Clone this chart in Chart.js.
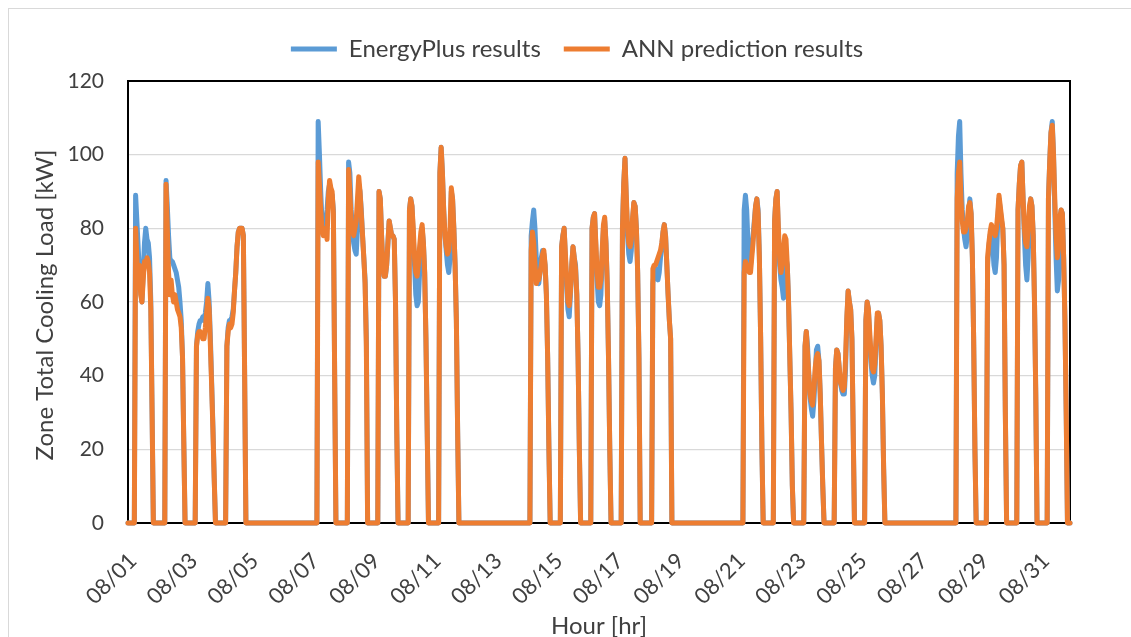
<!DOCTYPE html>
<html>
<head>
<meta charset="utf-8">
<script src="https://cdn.jsdelivr.net/npm/chart.js@4.4.1/dist/chart.umd.min.js"></script>
<style>
  body { margin: 0; background: #fff; overflow: hidden; }
  #frame { position: absolute; left: 8px; top: 8px; width: 1140px; height: 650px; border: 1px solid #d9d9d9; }
  #myChart { position: absolute; left: 0; top: 0; }
</style>
</head>
<body>
<div id="frame"></div>
<canvas id="myChart" width="1131" height="637"></canvas>
<script>
// hourly cooling load, August; each day lists values from START_HOUR on, the rest of the day is 0
const START_HOUR = 6;
const dayLabels = ['08/01','08/02','08/03','08/04','08/05','08/06','08/07','08/08','08/09','08/10',
  '08/11','08/12','08/13','08/14','08/15','08/16','08/17','08/18','08/19','08/20',
  '08/21','08/22','08/23','08/24','08/25','08/26','08/27','08/28','08/29','08/30','08/31'];
const yTicks = [0, 20, 40, 60, 80, 100, 120];

const energyPlus = [
  [89, 82, 75, 68, 63, 60, 68, 76, 80, 77, 76, 72, 60, 30, 0],
  [93, 86, 78, 72, 71, 71, 70, 69, 68, 66, 64, 60, 55, 45, 22, 0],
  [48, 52, 54, 55, 55, 56, 55, 57, 60, 65, 60, 50, 38, 26, 12, 0],
  [48, 53, 55, 55, 56, 58, 63, 68, 75, 79, 80, 80, 80, 78, 40, 0],
  [],
  [],
  [109, 100, 90, 82, 79, 80, 82, 85, 90, 92, 90, 89, 85, 40, 0],
  [98, 95, 85, 80, 76, 74, 73, 80, 92, 90, 85, 78, 72, 66, 50, 0],
  [90, 88, 78, 70, 67, 67, 70, 76, 82, 80, 78, 78, 77, 60, 25, 0],
  [85, 88, 86, 78, 70, 62, 59, 60, 68, 75, 80, 76, 68, 50, 25, 0],
  [95, 102, 95, 85, 78, 74, 70, 68, 72, 90, 88, 80, 70, 55, 25, 0],
  [],
  [],
  [78, 82, 85, 80, 72, 66, 65, 68, 72, 74, 73, 70, 62, 45, 20, 0],
  [75, 78, 80, 72, 64, 58, 56, 62, 70, 75, 72, 70, 62, 45, 20, 0],
  [80, 83, 84, 75, 66, 60, 59, 62, 72, 80, 82, 76, 65, 45, 20, 0],
  [80, 92, 99, 88, 78, 73, 71, 74, 82, 87, 86, 80, 68, 45, 0],
  [65, 68, 69, 68, 66, 68, 72, 75, 79, 81, 78, 70, 62, 55, 50, 0],
  [],
  [],
  [85, 89, 85, 76, 70, 70, 74, 78, 82, 86, 88, 85, 72, 50, 20, 0],
  [82, 88, 90, 78, 70, 66, 64, 61, 66, 72, 70, 60, 45, 30, 10, 0],
  [48, 52, 48, 40, 34, 31, 29, 33, 40, 47, 48, 44, 35, 22, 10, 0],
  [42, 47, 46, 42, 38, 36, 35, 35, 42, 55, 63, 60, 58, 50, 25, 0],
  [55, 60, 58, 50, 44, 40, 38, 40, 48, 56, 57, 55, 48, 35, 15, 0],
  [],
  [],
  [95, 105, 109, 95, 85, 80, 77, 75, 78, 84, 88, 84, 72, 50, 20, 0],
  [70, 75, 78, 80, 76, 70, 68, 72, 82, 88, 85, 82, 80, 70, 30, 0],
  [85, 92, 97, 98, 88, 78, 70, 66, 72, 84, 88, 86, 78, 60, 35, 0],
  [88, 98, 106, 109, 100, 85, 72, 63, 66, 80, 85, 84, 72, 55, 30, 0]
];

const annPrediction = [
  [80, 72, 64, 70, 62, 60, 66, 71, 70, 72, 71, 68, 58, 30, 0],
  [92, 80, 68, 62, 66, 62, 60, 62, 60, 58, 57, 56, 53, 45, 22, 0],
  [48, 51, 52, 52, 51, 50, 50, 53, 57, 61, 58, 48, 37, 25, 12, 0],
  [48, 52, 54, 53, 54, 57, 63, 68, 75, 79, 80, 80, 80, 78, 40, 0],
  [],
  [],
  [98, 92, 85, 80, 78, 79, 80, 77, 88, 93, 91, 90, 84, 40, 0],
  [96, 90, 82, 80, 78, 80, 82, 88, 94, 90, 84, 78, 72, 65, 48, 0],
  [90, 88, 78, 70, 67, 67, 70, 76, 82, 80, 78, 78, 77, 60, 25, 0],
  [85, 88, 86, 80, 72, 68, 67, 70, 75, 79, 81, 76, 68, 50, 25, 0],
  [95, 102, 95, 85, 78, 75, 73, 74, 80, 91, 88, 80, 70, 55, 25, 0],
  [],
  [],
  [74, 79, 76, 70, 65, 66, 66, 68, 70, 73, 74, 70, 62, 45, 20, 0],
  [75, 78, 80, 73, 66, 60, 59, 63, 70, 75, 72, 69, 62, 45, 20, 0],
  [80, 83, 84, 76, 68, 64, 64, 66, 74, 81, 83, 76, 65, 45, 20, 0],
  [80, 92, 99, 89, 80, 76, 75, 77, 83, 87, 86, 80, 68, 45, 0],
  [69, 70, 70, 71, 72, 73, 74, 76, 79, 81, 78, 70, 62, 55, 50, 0],
  [],
  [],
  [68, 71, 70, 69, 68, 68, 72, 76, 81, 86, 88, 84, 72, 50, 20, 0],
  [82, 88, 90, 80, 72, 68, 70, 74, 78, 77, 70, 60, 45, 30, 10, 0],
  [48, 52, 46, 40, 35, 33, 32, 36, 42, 45, 46, 44, 35, 22, 10, 0],
  [42, 47, 46, 42, 38, 37, 36, 37, 45, 56, 63, 60, 58, 50, 25, 0],
  [55, 60, 58, 52, 46, 42, 41, 43, 50, 57, 57, 55, 48, 35, 15, 0],
  [],
  [],
  [88, 95, 98, 88, 82, 79, 79, 80, 82, 86, 87, 84, 72, 50, 20, 0],
  [72, 76, 79, 81, 80, 79, 78, 80, 84, 89, 86, 83, 80, 70, 30, 0],
  [85, 92, 97, 98, 88, 80, 76, 75, 80, 86, 88, 86, 78, 60, 35, 0],
  [88, 98, 106, 108, 100, 88, 78, 72, 75, 83, 85, 84, 72, 55, 30, 0]
];

function toHourly(days) {
  const out = [];
  days.forEach(d => {
    for (let h = 0; h < 24; h++) {
      const k = h - START_HOUR;
      out.push(k >= 0 && k < d.length ? d[k] : 0);
    }
  });
  return out;
}

const hourLabels = [];
dayLabels.forEach(d => {
  for (let h = 1; h <= 24; h++) hourLabels.push(d + ' ' + String(h).padStart(2, '0') + ':00');
});

const FONT = 'Lato, "Open Sans", sans-serif';
const TEXT = '#404040';
const Y_TITLE = 'Zone Total Cooling Load [kW]';
const LEGEND_SHIFT = 31;

// black frame round the plot area, y axis title, legend nudged to the right
const plotBorder = {
  id: 'plotBorder',
  beforeDraw(chart) {
    const lg = chart.legend;
    if (lg && !lg._shifted) {
      lg.left += LEGEND_SHIFT;
      lg.right += LEGEND_SHIFT;
      lg._shifted = true;
    }
  },
  beforeDatasetsDraw(chart) {
    const a = chart.chartArea, ctx = chart.ctx;
    ctx.save();
    ctx.strokeStyle = '#000';
    ctx.lineWidth = 2;
    ctx.strokeRect(a.left, a.top, a.right - a.left, a.bottom - a.top);
    ctx.restore();
  },
  afterDraw(chart) {
    const ctx = chart.ctx;
    ctx.save();
    ctx.translate(45, 305);
    ctx.rotate(-Math.PI / 2);
    ctx.font = '24px ' + FONT;
    ctx.fillStyle = TEXT;
    ctx.textAlign = 'center';
    ctx.textBaseline = 'middle';
    ctx.fillText(Y_TITLE, 0, 0);
    ctx.restore();
  }
};

new Chart(document.getElementById('myChart').getContext('2d'), {
  type: 'line',
  data: {
    labels: hourLabels,
    datasets: [{
      label: 'EnergyPlus results',
      data: toHourly(energyPlus),
      borderColor: '#5b9bd5',
      backgroundColor: '#5b9bd5',
      borderWidth: 5,
      order: 1,
      clip: false
    }, {
      label: 'ANN prediction results',
      data: toHourly(annPrediction),
      borderColor: '#ed7d31',
      backgroundColor: '#ed7d31',
      borderWidth: 5,
      order: 0,
      clip: false
    }]
  },
  options: {
    responsive: false,
    animation: false,
    layout: { padding: { left: 22, right: 61, top: 14, bottom: 0 } },
    elements: { point: { radius: 0 }, line: { tension: 0, borderJoinStyle: 'round', borderCapStyle: 'round' } },
    plugins: {
      tooltip: { enabled: false },
      legend: {
        position: 'top',
        labels: {
          font: { family: FONT, size: 24 },
          color: TEXT,
          boxWidth: 46,
          boxHeight: 5,
          padding: 23,
          sort: (a, b) => a.datasetIndex - b.datasetIndex,
          generateLabels: function(chart) {
            return Chart.defaults.plugins.legend.labels.generateLabels(chart).map(item => {
              item.lineWidth = 0;
              return item;
            });
          }
        }
      },
      // empty spacer between legend and plot
      title: {
        display: true,
        text: '',
        position: 'top',
        weight: 100,
        padding: 0,
        font: { size: 10, lineHeight: 1 }
      }
    },
    scales: {
      x: {
        grid: { display: false, drawTicks: false },
        border: { display: false },
        afterBuildTicks: function(scale) {
          scale.ticks = scale.ticks.filter(t => t.value % 48 === 0);
        },
        afterFit: function(scale) { scale.height = 114; },
        ticks: {
          autoSkip: false,
          minRotation: 45,
          maxRotation: 45,
          padding: 25,
          labelOffset: 5,
          font: { family: FONT, size: 22 },
          color: TEXT,
          callback: function(value) {
            return dayLabels[Math.floor(value / 24)];
          }
        },
        title: {
          display: true,
          text: 'Hour [hr]',
          font: { family: FONT, size: 24, lineHeight: 1 },
          color: TEXT,
          padding: { top: 0, bottom: -1 }
        }
      },
      y: {
        min: 0,
        max: 120,
        afterBuildTicks: function(scale) {
          scale.ticks = yTicks.map(v => ({ value: v }));
        },
        afterFit: function(scale) { scale.width = 106; },
        grid: { color: '#d9d9d9', lineWidth: 1.2, drawTicks: false },
        border: { display: false },
        ticks: {
          padding: 24,
          font: { family: FONT, size: 21 },
          color: TEXT
        }
      }
    }
  },
  plugins: [plotBorder]
});
</script>
</body>
</html>
